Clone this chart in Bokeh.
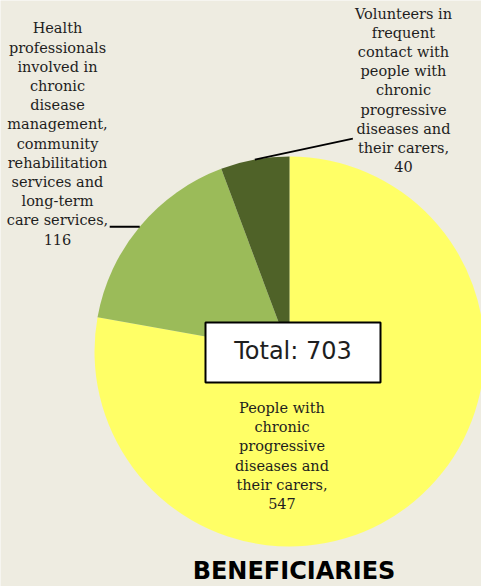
import numpy as np
from bokeh.plotting import figure
from bokeh.models import Range1d, ColumnDataSource
from bokeh.core.properties import value
from bokeh.embed import file_html
from bokeh.resources import INLINE

# ---- data ----
categories = [
    "People with\nchronic\nprogressive\ndiseases and\ntheir carers",
    "Health\nprofessionals\ninvolved in\nchronic\ndisease\nmanagement,\ncommunity\nrehabilitation\nservices and\nlong-term\ncare services",
    "Volunteers in\nfrequent\ncontact with\npeople with\nchronic\nprogressive\ndiseases and\ntheir carers",
]
counts = [547, 116, 40]
colors = ["#FFFF66", "#9BBB59", "#4F6228"]
title_text = "BENEFICIARIES"

# ---- layout (reference pixel space, y downward) ----
W, H = 481, 586
BG = "#EEECE1"
CX, CY, R = 289, 351, 195
label_pos = [(281.5, 455.5), (57, 133.5), (403, 90)]
leader_offset = [None, (-30, 0), (98, -21)]


def Y(y):
    return H - y


total = sum(counts)
cum = np.concatenate([[0], np.cumsum(counts)])
a0 = np.pi / 2 - 2 * np.pi * cum[:-1] / total
a1 = np.pi / 2 - 2 * np.pi * cum[1:] / total

p = figure(width=W, height=H, x_range=Range1d(0, W), y_range=Range1d(0, H),
           min_border=0, output_backend="svg", toolbar_location=None,
           x_axis_type=None, y_axis_type=None)
p.background_fill_color = BG
p.border_fill_color = BG
p.outline_line_color = None
p.grid.visible = False

src = ColumnDataSource(dict(start=a1, end=a0, color=colors))
p.wedge(x=CX, y=Y(CY), radius=R, start_angle="start", end_angle="end",
        direction="anticlock", fill_color="color", line_color=None, source=src)

# leader lines
for i, off in enumerate(leader_offset):
    if off is None:
        continue
    m = (a0[i] + a1[i]) / 2
    ex, ey = CX + R * np.cos(m), Y(CY) + R * np.sin(m)
    p.line([ex, ex + off[0]], [ey, ey - off[1]], line_color="black", line_width=2)

# category labels
labels = [f"{c},\n{n}" for c, n in zip(categories, counts)]
p.text(x=[lp[0] for lp in label_pos], y=[Y(lp[1]) for lp in label_pos], text=labels,
       text_font=value("DejaVu Serif"), text_font_size="14.5px",
       text_align="center", text_baseline="middle", text_line_height=1.2,
       text_color="#1E1E1E")

# total box
p.quad(left=205, right=380, top=Y(322), bottom=Y(382), fill_color="white",
       line_color="black", line_width=2)
p.text(x=[292.5], y=[Y(350)], text=[f"Total: {total}"],
       text_font=value("DejaVu Sans"), text_font_size="24px",
       text_align="center", text_baseline="alphabetic", text_color="#1E1E1E")

# title
p.text(x=[293.5], y=[Y(570)], text=[title_text],
       text_font=value("DejaVu Sans"), text_font_size="24px", text_font_style="bold",
       text_align="center", text_baseline="alphabetic", text_color="black")

open("out.html", "w").write(file_html(p, INLINE))
